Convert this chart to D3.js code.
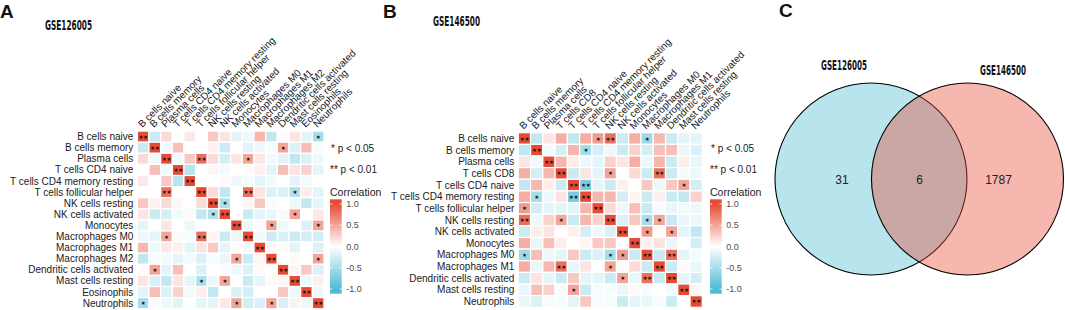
<!DOCTYPE html>
<html>
<head>
<meta charset="utf-8">
<script src="https://cdn.jsdelivr.net/npm/d3@7"></script>
<style>
  html, body { margin: 0; padding: 0; background: #fff; }
  svg { display: block; font-family: "Liberation Sans", Arial, sans-serif; }
</style>
</head>
<body>
<svg id="fig" width="1065" height="310"></svg>
<script>
// ---- data ----
const namesA = ["B cells naive", "B cells memory", "Plasma cells", "T cells CD4 naive",
  "T cells CD4 memory resting", "T cells follicular helper", "NK cells resting",
  "NK cells activated", "Monocytes", "Macrophages M0", "Macrophages M1", "Macrophages M2",
  "Dendritic cells activated", "Mast cells resting", "Eosinophils", "Neutrophils"];

const valuesA = [
  [1, -0.3, 0.2, 0, 0.12, 0, 0.3, 0.15, -0.15, -0.1, 0.4, -0.35, 0.02, 0.15, -0.15, -0.5],
  [-0.3, 1, -0.08, 0.35, 0, 0, 0.08, -0.3, 0, -0.15, -0.1, -0.05, 0.5, -0.2, 0.35, -0.05],
  [0.2, -0.08, 1, -0.08, 0.3, 0.8, 0.2, -0.25, 0.15, 0.5, 0.12, -0.08, -0.15, -0.35, -0.2, -0.1],
  [0, 0.35, -0.08, 1, -0.4, 0, 0.05, -0.08, 0, 0.03, 0.08, -0.15, 0.35, 0.15, 0.25, -0.15],
  [0.12, 0, 0.3, -0.4, 1, 0, 0, 0.03, -0.1, -0.05, -0.15, -0.08, 0, -0.15, -0.08, 0],
  [0, 0, 0.8, 0, 0, 1, 0.2, -0.35, 0, 0.8, 0.15, -0.2, -0.2, -0.45, 0.1, -0.15],
  [0.3, 0.08, 0.2, 0.05, 0, 0.2, 1, -0.45, 0, 0.05, 0.3, -0.05, 0, -0.1, -0.35, -0.15],
  [0.15, -0.3, -0.25, -0.08, 0.03, -0.35, -0.45, 1, 0, -0.3, -0.15, -0.12, -0.05, 0.5, 0, 0.12],
  [-0.15, 0, 0.15, 0, -0.1, 0, 0, 0, 1, -0.1, 0.02, 0.5, -0.1, 0, -0.2, 0.5],
  [-0.1, -0.15, 0.5, 0.03, -0.05, 0.8, 0.05, -0.3, -0.1, 1, -0.08, -0.3, -0.2, -0.3, -0.25, -0.25],
  [0.4, -0.1, 0.12, 0.08, -0.15, 0.15, 0.3, -0.15, 0.02, -0.08, 1, 0.05, 0.03, -0.15, 0, -0.2],
  [-0.35, -0.05, -0.08, -0.15, -0.08, -0.2, -0.05, -0.12, 0.5, -0.3, 0.05, 1, 0, 0.03, 0, 0.5],
  [0.02, 0.5, -0.15, 0.35, 0, -0.2, 0, -0.05, -0.1, -0.2, 0.03, 0, 1, 0.05, 0.3, -0.2],
  [0.15, -0.2, -0.35, 0.15, -0.15, -0.45, -0.1, 0.5, 0, -0.3, -0.15, 0.03, 0.05, 1, -0.1, 0.08],
  [-0.15, 0.35, -0.2, 0.25, -0.08, 0.1, -0.35, 0, -0.2, -0.25, 0, 0, 0.3, -0.1, 1, -0.1],
  [-0.5, -0.05, -0.1, -0.15, 0, -0.15, -0.15, 0.12, 0.5, -0.25, -0.2, 0.5, -0.2, 0.08, -0.1, 1]
];

// 0 = none, 1 = p < 0.05, 2 = p < 0.01
const sigA = [
  "2000000000000001",
  "0200000000001000",
  "0020020001000000",
  "0002000000000000",
  "0000200000000000",
  "0020020002000100",
  "0000002100000000",
  "0000001200000100",
  "0000000020010001",
  "0010020002000000",
  "0000000000200000",
  "0000000010020001",
  "0100000000002000",
  "0000010100000200",
  "0000000000000020",
  "1000000010010002"
];

const namesB = ["B cells naive", "B cells memory", "Plasma cells", "T cells CD8",
  "T cells CD4 naive", "T cells CD4 memory resting", "T cells follicular helper",
  "NK cells resting", "NK cells activated", "Monocytes", "Macrophages M0", "Macrophages M1",
  "Dendritic cells activated", "Mast cells resting", "Neutrophils"];

const valuesB = [
  [1, -0.35, 0.15, 0.45, -0.35, 0.45, 0.55, 0.8, -0.3, 0.45, -0.55, 0.4, -0.3, -0.15, -0.15],
  [-0.35, 1, -0.08, -0.25, 0.4, -0.5, -0.25, -0.1, -0.3, 0.25, -0.25, 0.35, 0.35, -0.12, -0.2],
  [0.15, -0.08, 1, 0.4, 0.1, -0.1, -0.15, 0.25, 0.15, 0.45, -0.1, 0.4, -0.3, 0.1, -0.12],
  [0.45, -0.25, 0.4, 1, -0.3, 0.15, -0.15, 0.5, 0, 0.2, -0.3, 0.8, -0.3, -0.05, -0.1],
  [-0.35, 0.4, 0.1, -0.3, 1, -0.75, -0.15, -0.3, 0.08, 0, 0.3, -0.1, 0.3, 0.5, -0.25],
  [0.45, -0.5, -0.1, 0.15, -0.75, 1, 0.4, 0.4, -0.25, 0.05, -0.3, 0.1, -0.3, -0.35, 0.25],
  [0.55, -0.25, -0.15, -0.15, -0.15, 0.4, 1, 0.2, -0.1, 0.35, -0.3, -0.05, -0.12, -0.08, -0.1],
  [0.8, -0.1, 0.25, 0.5, -0.3, 0.4, 0.25, 1, -0.2, 0.3, -0.5, 0.5, -0.3, -0.12, -0.1],
  [-0.3, 0.1, 0.15, 0, 0.08, -0.25, -0.1, -0.2, 1, 0, 0.55, 0.02, 0.5, -0.15, -0.35],
  [0.45, -0.12, 0.35, 0.1, 0, 0.05, 0.3, 0.3, 0, 1, 0.08, 0.15, -0.12, 0, -0.25],
  [-0.55, 0.35, -0.1, -0.15, 0.3, -0.3, -0.2, -0.5, 0.55, -0.3, 1, -0.3, 0.8, -0.15, -0.05],
  [0.45, -0.12, 0.4, 0.8, -0.12, 0.15, 0, 0.5, 0.03, 0.2, -0.3, 1, -0.3, 0.03, -0.12],
  [-0.3, 0.15, -0.15, -0.3, 0.3, -0.15, -0.15, -0.3, 0.5, -0.12, 0.8, -0.3, 1, -0.15, -0.25],
  [-0.12, 0.35, 0.25, -0.05, 0.5, -0.3, -0.05, -0.05, -0.1, 0.03, -0.05, 0, -0.08, 1, 0.05],
  [-0.12, -0.2, -0.05, -0.05, -0.15, 0.3, -0.05, -0.05, -0.3, -0.15, -0.12, -0.05, -0.3, 0, 1]
];

const sigB = [
  "200000120010000",
  "020001000000000",
  "002000000000000",
  "000200010002000",
  "000022000000010",
  "010022000000000",
  "100000200000000",
  "200100020011000",
  "000000002010100",
  "000000000200000",
  "100000011020200",
  "000200010002000",
  "000000001020200",
  "000010000000020",
  "000000000000002"
];

const legendTicks = [1, 0.5, 0, -0.5, -1];
const legendTickLabels = ["1.0", "0.5", "0.0", "-0.5", "-1.0"];

const vennSets = ["GSE126005", "GSE146500"];
const vennCounts = [31, 6, 1787]; // only left, both, only right

// ---- drawing ----
const svg = d3.select("#fig");

const color = d3.scaleLinear()
  .domain([-1, 0, 1])
  .range(["#4DBBD5", "#FFFFFF", "#E64B35"])
  .clamp(true);

function corrPanel(names, values, sig, box, id) {
  const g = svg.append("g");
  const idx = d3.range(names.length);
  const x = d3.scaleBand().domain(idx).range([box.x0, box.x1]);
  const y = d3.scaleBand().domain(idx).range([box.y0, box.y1]);

  const cells = values.flatMap((row, i) => row.map((v, j) => ({ i, j, v, s: +sig[i][j] })));

  g.selectAll("rect.cell")
    .data(cells)
    .join("rect")
    .attr("class", "cell")
    .attr("x", d => x(d.j))
    .attr("y", d => y(d.i))
    .attr("width", x.bandwidth())
    .attr("height", y.bandwidth())
    .attr("fill", d => color(d.v))
    .attr("stroke", "#fff")
    .attr("stroke-width", 1.2);

  g.selectAll("text.star")
    .data(cells.filter(d => d.s > 0))
    .join("text")
    .attr("class", "star")
    .attr("x", d => x(d.j) + x.bandwidth() / 2)
    .attr("y", d => y(d.i) + y.bandwidth() / 2)
    .attr("text-anchor", "middle")
    .attr("dominant-baseline", "central")
    .style("font-family", "DejaVu Sans")
    .style("font-size", "5.6px")
    .style("letter-spacing", "-0.3px")
    .style("fill", "#111")
    .text(d => "★".repeat(d.s));

  // row labels
  g.selectAll("text.rowlab")
    .data(names)
    .join("text")
    .attr("class", "rowlab")
    .attr("x", box.x0 - 4)
    .attr("y", (d, i) => y(i) + y.bandwidth() / 2)
    .attr("text-anchor", "end")
    .attr("dominant-baseline", "central")
    .style("font-size", "10px")
    .style("fill", "#1a1a1a")
    .text(d => d);

  // column labels, rotated
  g.selectAll("text.collab")
    .data(names)
    .join("text")
    .attr("class", "collab")
    .attr("transform", (d, i) => `translate(${x(i) + x.bandwidth() / 2 - 1},${box.y0 - 3}) rotate(-45)`)
    .attr("text-anchor", "start")
    .style("font-size", "10px")
    .style("fill", "#1a1a1a")
    .text(d => d);

  // legend
  const lx = box.legX;
  g.append("text").attr("x", lx + 1).attr("y", 151.5)
    .style("font-size", "10px").style("fill", "#1a1a1a").text("* p < 0.05");
  g.append("text").attr("x", lx).attr("y", 173)
    .style("font-size", "10px").style("fill", "#1a1a1a").text("** p < 0.01");
  g.append("text").attr("x", lx).attr("y", 195.5)
    .style("font-size", "10.5px").style("fill", "#1a1a1a").text("Correlation");

  const ly = d3.scaleLinear().domain([-1, 1]).range([289, 204]);
  const barW = 11.7;
  const grad = svg.append("defs").append("linearGradient")
    .attr("id", id).attr("x1", 0).attr("y1", 0).attr("x2", 0).attr("y2", 1);
  const top = ly(1.11), bot = ly(-1.11);
  [1.11, 1, 0, -1, -1.11].forEach(v => {
    grad.append("stop")
      .attr("offset", (ly(v) - top) / (bot - top))
      .attr("stop-color", color(v));
  });
  g.append("rect").attr("x", lx).attr("y", top)
    .attr("width", barW).attr("height", bot - top)
    .attr("fill", `url(#${id})`);

  legendTicks.forEach((t, k) => {
    g.append("line").attr("x1", lx).attr("x2", lx + 2.3)
      .attr("y1", ly(t)).attr("y2", ly(t)).attr("stroke", "#fff").attr("stroke-width", 0.8);
    g.append("line").attr("x1", lx + barW - 2.3).attr("x2", lx + barW)
      .attr("y1", ly(t)).attr("y2", ly(t)).attr("stroke", "#fff").attr("stroke-width", 0.8);
    g.append("text").attr("x", lx + barW + 4.5).attr("y", ly(t))
      .attr("dominant-baseline", "central")
      .style("font-size", "9px").style("fill", "#4d4d4d")
      .text(legendTickLabels[k]);
  });
}

corrPanel(namesA, valuesA, sigA, { x0: 137.3, x1: 324, y0: 131.1, y1: 308.7, legX: 330 }, "gradA");
corrPanel(namesB, valuesB, sigB, { x0: 518.3, x1: 702.3, y0: 132.7, y1: 307.3, legX: 710 }, "gradB");

// panel letters
[["A", 0, 18], ["B", 383, 18], ["C", 779, 17]].forEach(([t, px, py]) => {
  svg.append("text").attr("x", px).attr("y", py)
    .style("font-size", "19px").style("font-weight", "bold").style("fill", "#111").text(t);
});

// dataset titles (bold, condensed)
function gseTitle(txt, px, py, anchor) {
  svg.append("text").attr("x", px).attr("y", py)
    .attr("text-anchor", anchor)
    .attr("textLength", 47).attr("lengthAdjust", "spacingAndGlyphs")
    .style("font-family", "'DejaVu Sans Condensed', 'DejaVu Sans', sans-serif")
    .style("font-size", "13.5px").style("font-weight", "bold").style("fill", "#111")
    .text(txt);
}
gseTitle("GSE126005", 45, 29.5, "start");
gseTitle("GSE146500", 433, 25.5, "start");

// ---- Venn ----
const vx = d3.scaleLinear().domain([0, 1]).range([871, 967.5]);
const vr = 96, vcy = 179;
const venn = svg.append("g");
const vennFill = ["#4DBBD5", "#E64B35"];
venn.selectAll("circle")
  .data(vennSets)
  .join("circle")
  .attr("cx", (d, i) => vx(i))
  .attr("cy", vcy)
  .attr("r", vr)
  .attr("fill", (d, i) => vennFill[i])
  .attr("fill-opacity", 0.4)
  .attr("stroke", "#000")
  .attr("stroke-width", 1.1);

venn.selectAll("text.count")
  .data(vennCounts)
  .join("text")
  .attr("class", "count")
  .attr("x", (d, i) => [842, 919.5, 998.5][i])
  .attr("y", vcy + 4.5)
  .attr("text-anchor", "middle")
  .style("font-size", "12px")
  .style("fill", "#222")
  .text(d => d);

svg.append("text").attr("x", 844).attr("y", 70).attr("text-anchor", "middle")
  .attr("textLength", 46).attr("lengthAdjust", "spacingAndGlyphs")
  .style("font-family", "'DejaVu Sans Condensed', 'DejaVu Sans', sans-serif")
  .style("font-size", "13.5px").style("font-weight", "bold").style("fill", "#111")
  .text(vennSets[0]);
svg.append("text").attr("x", 1003).attr("y", 75).attr("text-anchor", "middle")
  .attr("textLength", 46).attr("lengthAdjust", "spacingAndGlyphs")
  .style("font-family", "'DejaVu Sans Condensed', 'DejaVu Sans', sans-serif")
  .style("font-size", "13.5px").style("font-weight", "bold").style("fill", "#111")
  .text(vennSets[1]);
</script>
</body>
</html>
